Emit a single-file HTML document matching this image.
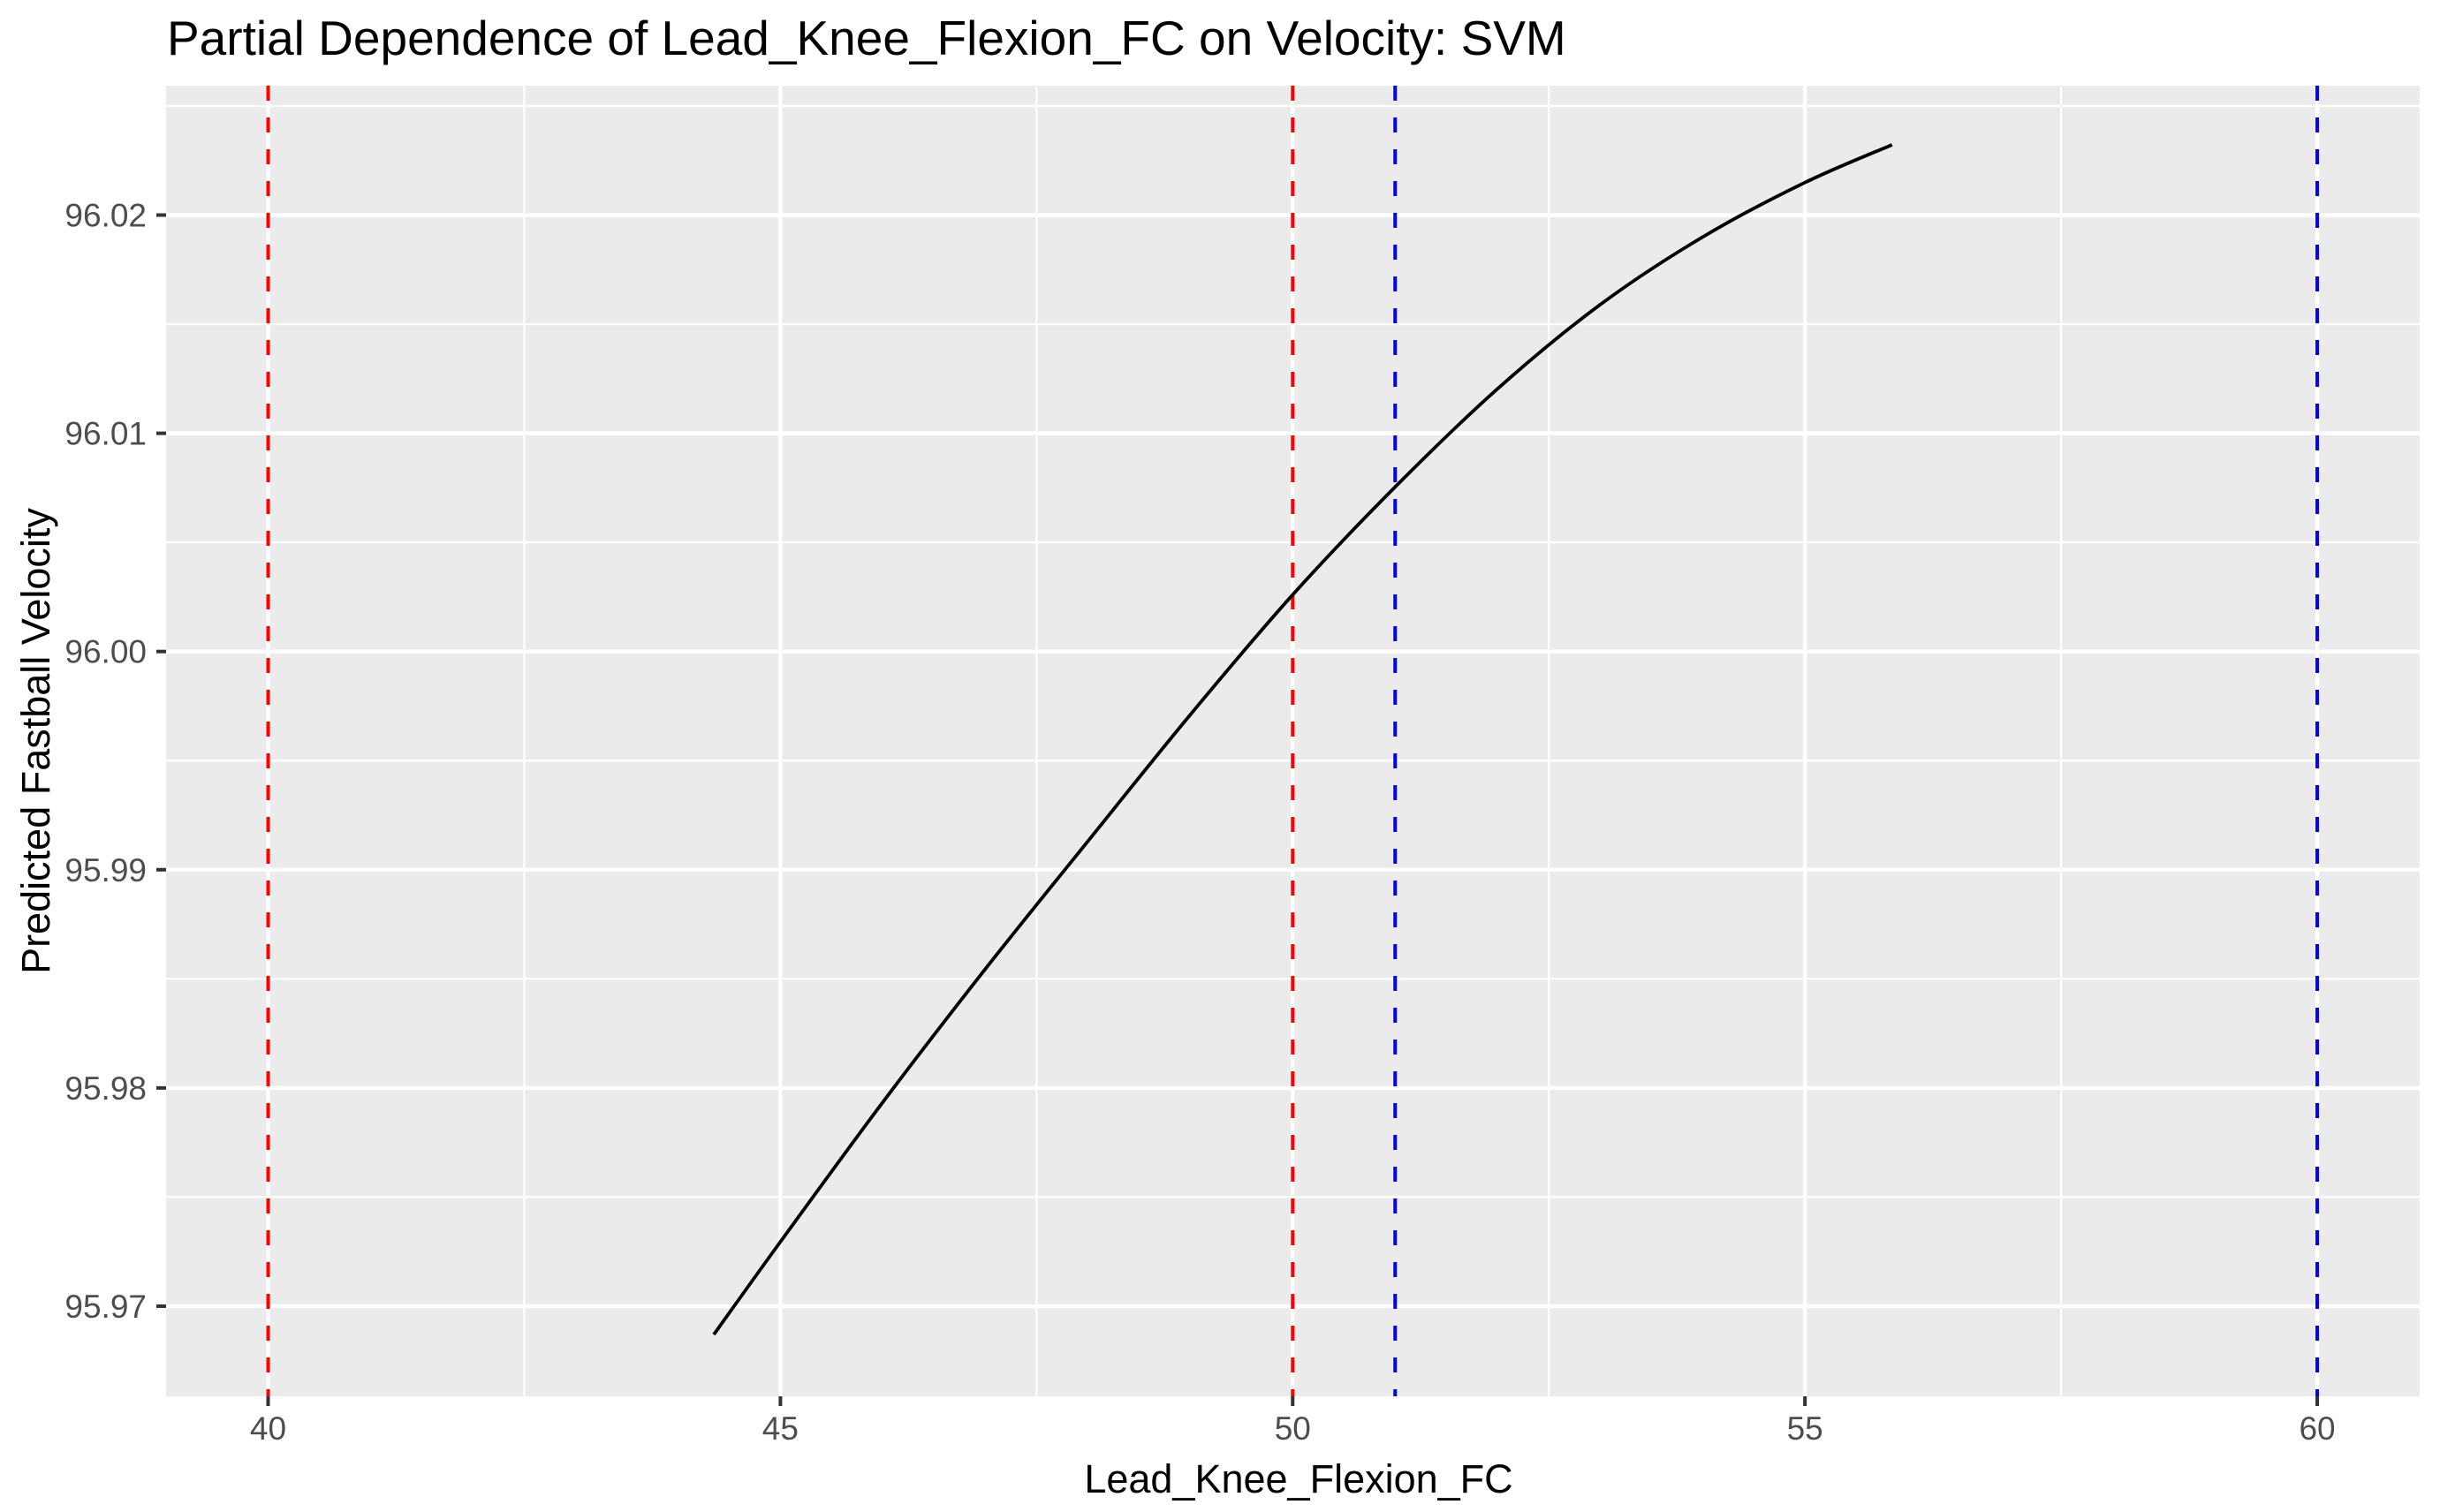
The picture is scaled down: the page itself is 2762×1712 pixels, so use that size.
<!DOCTYPE html>
<html><head><meta charset="utf-8"><title>Partial Dependence</title>
<style>
html,body{margin:0;padding:0;background:#fff;}
svg{display:block;font-family:"Liberation Sans",Arial,sans-serif;}
</style></head>
<body>
<svg id="chart" width="2762" height="1712" viewBox="0 0 2762 1712" xmlns="http://www.w3.org/2000/svg">
<rect x="0" y="0" width="2762" height="1712" fill="#ffffff"/>
<text x="189" y="62" font-size="55" fill="#000">Partial Dependence of Lead_Knee_Flexion_FC on Velocity: SVM</text>
<rect x="188" y="97" width="2551" height="1484" fill="#ebebeb"/>
<g id="grid-minor"></g>
<g id="grid-major"></g>
<g id="vlines"></g>
<g id="series"></g>
<g id="axes"></g>
<text x="1470" y="1690" font-size="45" text-anchor="middle" fill="#000">Lead_Knee_Flexion_FC</text>
<text transform="translate(56,839) rotate(-90)" font-size="45" text-anchor="middle" fill="#000">Predicted Fastball Velocity</text>
</svg>
<script>
const xValues = [44.35, 45, 46, 47, 48, 49, 50, 51, 52, 53, 54, 55, 55.85];
const yValues = [95.9687, 95.97295, 95.97935, 95.98545, 95.9913, 95.9971, 96.0026, 96.00754, 96.01204, 96.01589, 96.01899, 96.02149, 96.02322];
const xTicks = [40, 45, 50, 55, 60];
const xTickLabels = ["40", "45", "50", "55", "60"];
const xMinor = [42.5, 47.5, 52.5, 57.5];
const yTicks = [95.97, 95.98, 95.99, 96.00, 96.01, 96.02];
const yTickLabels = ["95.97", "95.98", "95.99", "96.00", "96.01", "96.02"];
const yMinor = [95.975, 95.985, 95.995, 96.005, 96.015, 96.025];
const redLines = [40, 50];
const blueLines = [51, 60];

const P = {l:188, r:2739, t:97, b:1581};
const X0 = 39.004, X1 = 61.0, Y0 = 95.96587, Y1 = 96.02593;
function sx(v){ return P.l + (v - X0) / (X1 - X0) * (P.r - P.l); }
function sy(v){ return P.b - (v - Y0) / (Y1 - Y0) * (P.b - P.t); }
const NS = "http://www.w3.org/2000/svg";
function mk(tag, parent, attrs){ const e = document.createElementNS(NS, tag); for (const k in attrs) e.setAttribute(k, attrs[k]); parent.appendChild(e); return e; }

const gMin = document.getElementById('grid-minor');
const gMaj = document.getElementById('grid-major');
xMinor.forEach(v => {
  const l = mk('line', gMin, {x1:sx(v), x2:sx(v), y1:P.t, y2:P.b, stroke:'#fff', 'stroke-width':2.2});
  
  
});
yMinor.forEach(v => {
  const l = mk('line', gMin, {x1:P.l, x2:P.r, y1:sy(v), y2:sy(v), stroke:'#fff', 'stroke-width':2.2});
  
  
});
xTicks.forEach(v => {
  const l = mk('line', gMaj, {x1:sx(v), x2:sx(v), y1:P.t, y2:P.b, stroke:'#fff', 'stroke-width':4.4});
  
  
});
yTicks.forEach(v => {
  const l = mk('line', gMaj, {x1:P.l, x2:P.r, y1:sy(v), y2:sy(v), stroke:'#fff', 'stroke-width':4.4});
  
  
});

const gV = document.getElementById('vlines');
redLines.forEach(v => {
  const l = mk('line', gV, {x1:sx(v), x2:sx(v), y1:P.t, y2:P.b, stroke:'#ff0000', 'stroke-width':4, 'stroke-dasharray':'17 19'});
  
  
});
blueLines.forEach(v => {
  const l = mk('line', gV, {x1:sx(v), x2:sx(v), y1:P.t, y2:P.b, stroke:'#0000ff', 'stroke-width':4, 'stroke-dasharray':'17 19'});
  
  
});

const gS = document.getElementById('series');
const pts = xValues.map((x, i) => [sx(x), sy(yValues[i])]);
let d = 'M' + pts[0][0] + ',' + pts[0][1];
for (let i = 0; i < pts.length - 1; i++) {
  const p0 = pts[Math.max(0, i-1)], p1 = pts[i], p2 = pts[i+1], p3 = pts[Math.min(pts.length-1, i+2)];
  const c1x = p1[0] + (p2[0]-p0[0])/6, c1y = p1[1] + (p2[1]-p0[1])/6;
  const c2x = p2[0] - (p3[0]-p1[0])/6, c2y = p2[1] - (p3[1]-p1[1])/6;
  d += ' C' + c1x + ',' + c1y + ' ' + c2x + ',' + c2y + ' ' + p2[0] + ',' + p2[1];
}
const curve = mk('path', gS, {d:d, fill:'none', stroke:'#000', 'stroke-width':3.8});



const gA = document.getElementById('axes');
xTicks.forEach((v, i) => {
  const t = mk('line', gA, {x1:sx(v), x2:sx(v), y1:P.b, y2:P.b+11, stroke:'#333', 'stroke-width':4});
  
  
  const lb = mk('text', gA, {x:sx(v), y:1630, 'font-size':37, 'text-anchor':'middle', fill:'#4d4d4d'});
  lb.textContent = xTickLabels[i];
  
  
});
yTicks.forEach((v, i) => {
  const t = mk('line', gA, {x1:P.l-11, x2:P.l, y1:sy(v), y2:sy(v), stroke:'#333', 'stroke-width':4});
  
  
  const lb = mk('text', gA, {x:166, y:sy(v)+13, 'font-size':37, 'text-anchor':'end', fill:'#4d4d4d'});
  lb.textContent = yTickLabels[i];
  
  
});
</script>
</body></html>
